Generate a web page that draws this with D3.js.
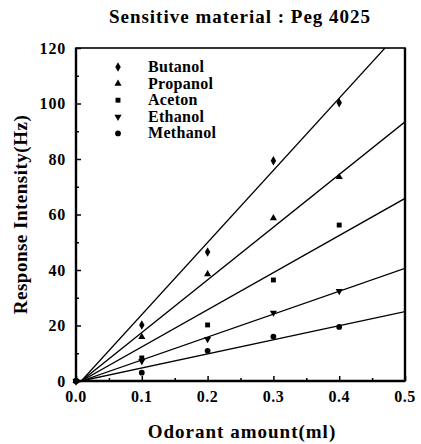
<!DOCTYPE html>
<html>
<head>
<meta charset="utf-8">
<script src="https://cdn.jsdelivr.net/npm/d3@7"></script>
<style>
  body { margin: 0; background: #fff; }
  text { font-family: "Liberation Serif", "Times New Roman", serif; font-weight: bold; fill: #000; }
</style>
</head>
<body>
<div id="chart"></div>
<script>
// measured points (odorant amount in ml, response in Hz)
var doses = [0, 0.1, 0.2, 0.3, 0.4];
var butanol = [0, 20.2, 46.5, 79.4, 100.3];
var propanol = [0, 15.9, 38.5, 58.7, 73.5];
var aceton = [0, 8.3, 20.2, 36.4, 56.2];
var ethanol = [0, 7.2, 15.1, 24.6, 32.4];
var methanol = [0, 3.0, 10.9, 16.0, 19.5];

// fitted lines: start at fitX[0], end at fitX[1]
var fitX = [0.008, 0.5];
var fitStart = [0, 0, 0, 0, 0];
var fitEnd = [127.9, 93.4, 65.8, 40.6, 25.0];

var seriesNames = ["Butanol", "Propanol", "Aceton", "Ethanol", "Methanol"];
var xTicks = [0, 0.1, 0.2, 0.3, 0.4, 0.5];
var yTicks = [0, 20, 40, 60, 80, 100, 120];

var width = 421, height = 444;
var margin = {left: 76, right: 16, top: 48, bottom: 63};

var svg = d3.select("#chart").append("svg")
    .attr("width", width)
    .attr("height", height);

var x = d3.scaleLinear().domain([0, 0.5]).range([margin.left, width - margin.right]);
var y = d3.scaleLinear().domain([0, 120]).range([height - margin.bottom, margin.top]);

var symbols = [
    d3.symbol().type(d3.symbolDiamond).size(26),
    d3.symbol().type(d3.symbolTriangle).size(22),
    d3.symbol().type(d3.symbolSquare).size(24),
    d3.symbol().type(d3.symbolTriangle).size(22),
    d3.symbol().type(d3.symbolCircle).size(26)
];
var flip = [false, false, false, true, false];
var allSeries = [butanol, propanol, aceton, ethanol, methanol];

// title
svg.append("text")
    .attr("x", 240)
    .attr("y", 23)
    .attr("text-anchor", "middle")
    .attr("font-size", 19)
    .attr("letter-spacing", 1)
    .text("Sensitive material : Peg 4025");

// clip for the lines
svg.append("clipPath").attr("id", "plotclip")
    .append("rect")
    .attr("x", x(0)).attr("y", y(120))
    .attr("width", x(0.5) - x(0)).attr("height", y(0) - y(120));

// minor / major ticks, pointing inward
var yAxis = d3.axisRight(y).tickValues(d3.range(0, 121, 10)).tickSize(0).tickFormat("");
var gy = svg.append("g").attr("transform", "translate(" + x(0) + ",0)").call(yAxis);
gy.select(".domain").remove();
gy.selectAll(".tick line")
    .attr("x2", function(d) { return d % 20 === 0 ? 5 : 3; })
    .attr("stroke", "#000").attr("stroke-width", 1.5);

var xAxis = d3.axisTop(x).tickValues(d3.range(0, 0.51, 0.05)).tickSize(0).tickFormat("");
var gx = svg.append("g").attr("transform", "translate(0," + y(0) + ")").call(xAxis);
gx.select(".domain").remove();
gx.selectAll(".tick line")
    .attr("y2", function(d, i) { return i % 2 === 0 ? -5 : -3; })
    .attr("stroke", "#000").attr("stroke-width", 1.5);

// tick labels
svg.append("g").selectAll("text")
    .data(yTicks).enter().append("text")
    .attr("x", x(0) - 10)
    .attr("y", function(d) { return y(d) + 5.5; })
    .attr("text-anchor", "end")
    .attr("font-size", 16)
    .attr("letter-spacing", 0.8)
    .text(function(d) { return d; });

svg.append("g").selectAll("text")
    .data(xTicks).enter().append("text")
    .attr("x", function(d) { return x(d); })
    .attr("y", y(0) + 21)
    .attr("text-anchor", "middle")
    .attr("font-size", 16)
    .attr("letter-spacing", 0.5)
    .text(function(d) { return d.toFixed(1); });

// frame
svg.append("rect")
    .attr("x", x(0)).attr("y", y(120))
    .attr("width", x(0.5) - x(0)).attr("height", y(0) - y(120))
    .attr("fill", "none").attr("stroke", "#000").attr("stroke-width", 1.6);
svg.append("line")
    .attr("x1", x(0)).attr("x2", x(0)).attr("y1", y(120)).attr("y2", y(0))
    .attr("stroke", "#000").attr("stroke-width", 2.4);
svg.append("line")
    .attr("x1", x(0.5)).attr("x2", x(0.5)).attr("y1", y(120)).attr("y2", y(0))
    .attr("stroke", "#000").attr("stroke-width", 2.4);
svg.append("line")
    .attr("x1", x(0)).attr("x2", x(0.5)).attr("y1", y(0)).attr("y2", y(0))
    .attr("stroke", "#000").attr("stroke-width", 2.4);

// fit lines
var line = d3.line().x(function(d) { return x(d[0]); }).y(function(d) { return y(d[1]); });
svg.append("g").attr("clip-path", "url(#plotclip)")
    .selectAll("path")
    .data(fitEnd.map(function(e, i) { return [[fitX[0], fitStart[i]], [fitX[1], e]]; }))
    .enter().append("path")
    .attr("d", line)
    .attr("fill", "none")
    .attr("stroke", "#000")
    .attr("stroke-width", 1.3);

// points
allSeries.forEach(function(vals, i) {
    svg.append("g").selectAll("path")
        .data(vals).enter().append("path")
        .attr("d", symbols[i])
        .attr("transform", function(d, j) {
            return "translate(" + x(doses[j]) + "," + y(d) + ")" + (flip[i] ? " rotate(180)" : "");
        })
        .attr("fill", "#000");
});

// legend
var legend = svg.append("g");
seriesNames.forEach(function(name, i) {
    var ly = 67 + i * 16.6;
    legend.append("path")
        .attr("d", symbols[i])
        .attr("transform", "translate(118," + ly + ")" + (flip[i] ? " rotate(180)" : ""))
        .attr("fill", "#000");
    legend.append("text")
        .attr("x", 148)
        .attr("y", ly + 5)
        .attr("font-size", 16)
        .attr("letter-spacing", 0.3)
        .text(name);
});

// axis titles
svg.append("text")
    .attr("x", 242)
    .attr("y", 438)
    .attr("text-anchor", "middle")
    .attr("font-size", 19)
    .attr("letter-spacing", 1)
    .text("Odorant amount(ml)");

svg.append("text")
    .attr("transform", "translate(27," + ((y(0) + y(120)) / 2) + ") rotate(-90)")
    .attr("text-anchor", "middle")
    .attr("font-size", 19)
    .attr("letter-spacing", 0.5)
    .text("Response Intensity(Hz)");
</script>
</body>
</html>
